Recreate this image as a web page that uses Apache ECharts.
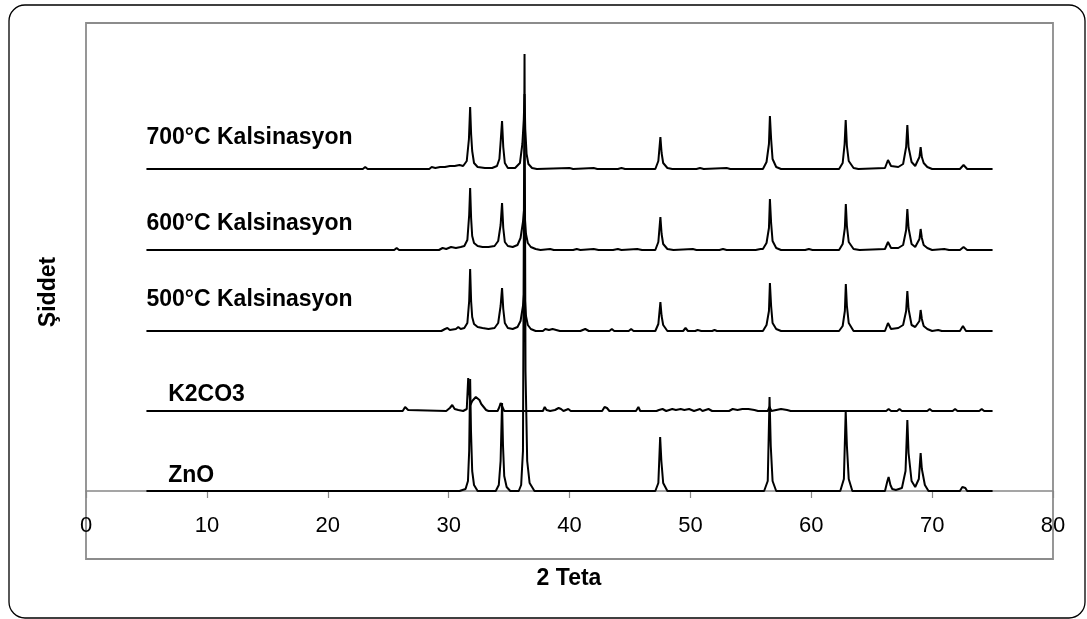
<!DOCTYPE html>
<html>
<head>
<meta charset="utf-8">
<script src="https://cdn.jsdelivr.net/npm/echarts@6/dist/echarts.min.js"></script>
<style>
  html, body { margin: 0; padding: 0; background: #fff; }
  #chart { width: 1087px; height: 619px; }
</style>
</head>
<body>
<div id="chart"></div>
<script>
// XRD patterns, [2 theta, intensity above own baseline]
const seriesNames = ['ZnO', 'K2CO3', '500°C Kalsinasyon', '600°C Kalsinasyon', '700°C Kalsinasyon'];
const offsets = [0, 80, 160, 241, 322];
const xTicks = [0, 10, 20, 30, 40, 50, 60, 70, 80];

const zno = [
  [5,0],[30.9,0],[31.4,2],[31.6,10],[31.7,40],[31.78,112],[31.85,60],[31.95,20],[32.1,6],[32.4,0],
  [33.9,0],[34.15,6],[34.3,30],[34.42,88],[34.5,45],[34.6,15],[34.8,4],[35.1,0],
  [35.8,0],[36.0,6],[36.15,40],[36.28,437],[36.36,120],[36.5,30],[36.7,8],[37.1,0],
  [47.1,0],[47.35,8],[47.5,54],[47.6,30],[47.75,8],[48.1,0],
  [56.1,0],[56.4,10],[56.55,94],[56.65,45],[56.8,10],[57.1,0],
  [62.4,0],[62.7,12],[62.85,80],[62.95,45],[63.1,12],[63.4,0],
  [66.1,0],[66.3,10],[66.4,14],[66.55,6],[66.7,2],[67.0,1],
  [67.5,3],[67.8,20],[67.95,71],[68.05,38],[68.15,36],[68.3,10],[68.6,4],
  [68.9,12],[69.05,38],[69.15,22],[69.25,20],[69.4,6],[69.7,0],
  [72.3,0],[72.5,4],[72.6,5],[72.75,3],[72.9,0],[75,0]
];

const k2co3 = [
  [5,0],[26.2,0],[26.4,4],[26.5,5],[26.65,1],[26.8,0],[29.8,0],[30.1,3],[30.3,6],[30.5,2],
  [30.8,1],[30.95,2],[31.2,0],[31.5,2],[31.62,33],[31.7,20],[31.8,6],[31.95,10],[32.1,9],
  [32.25,14],[32.4,12],[32.55,11],[32.7,7],[32.9,4],[33.1,1],[33.3,0],[34.05,0],[34.2,4],
  [34.3,8],[34.45,4],[34.6,0],[37.8,0],[37.95,4],[38.1,1],[38.4,0],[38.8,1],[39.1,3],
  [39.3,2],[39.5,0],[39.9,2],[40.1,0],[41.2,0],[41.35,2],[41.5,0],[42.7,0],[42.9,4],
  [43.1,3],[43.3,0],[45.5,0],[45.7,4],[45.85,0],[47.2,0],[47.4,1],[47.7,2],[48.0,0],
  [48.5,2],[48.8,1],[49.2,2],[49.5,1],[49.9,2],[50.3,0],[50.8,2],[51.0,0],[51.5,2],
  [51.8,0],[53.2,0],[53.5,2],[53.9,1],[54.3,2],[54.8,2],[55.3,1],[55.6,0],[56.4,0],
  [56.55,4],[56.7,0],[57.1,1],[57.5,2],[58.0,1],[58.3,0],[66.2,0],[66.4,2],[66.6,0],
  [67.1,0],[67.3,2],[67.5,0],[69.6,0],[69.8,2],[70.0,0],[71.7,0],[71.9,2],[72.1,0],
  [73.9,0],[74.1,2],[74.3,0],[75,0]
];

const c500 = [
  [5,0],[29.4,0],[29.7,2],[29.9,3],[30.1,1],[30.6,2],[30.8,4],[31.0,2],[31.3,3],[31.55,8],
  [31.7,30],[31.78,62],[31.86,30],[31.95,14],[32.1,7],[32.4,4],[32.8,3],[33.3,2],[33.8,3],
  [34.1,8],[34.3,25],[34.42,43],[34.52,22],[34.65,8],[34.9,3],[35.3,2],[35.7,4],[35.95,10],
  [36.15,25],[36.26,40],[36.32,30],[36.4,15],[36.55,6],[36.8,2],[37.2,0],[37.8,0],[38.0,2],
  [38.3,1],[38.6,2],[38.9,1],[39.2,0],[40.9,0],[41.3,2],[41.6,0],[43.3,0],[43.5,2],[43.7,0],
  [44.9,0],[45.1,2],[45.3,0],[47.1,0],[47.35,7],[47.52,29],[47.62,15],[47.75,6],[48.1,0],
  [49.4,0],[49.6,3],[49.8,0],[50.4,0],[50.6,1],[50.9,0],[51.8,0],[52.0,1],[52.2,0],
  [56.0,0],[56.3,6],[56.5,20],[56.58,48],[56.68,25],[56.8,8],[57.1,2],[57.5,0],
  [62.3,0],[62.6,5],[62.78,20],[62.86,47],[62.95,25],[63.1,8],[63.5,0],
  [66.1,0],[66.35,8],[66.6,2],[67.2,3],[67.6,6],[67.85,20],[67.95,40],[68.05,22],[68.15,20],
  [68.3,6],[68.6,4],[68.95,10],[69.05,21],[69.15,12],[69.3,5],[69.6,2],[70.0,0],[70.5,1],
  [70.8,0],[72.3,0],[72.55,5],[72.8,0],[75,0]
];

const c600 = [
  [5,0],[25.5,0],[25.7,2],[25.9,0],[29.2,0],[29.5,2],[29.8,1],[30.2,3],[30.6,2],[31.0,3],
  [31.3,4],[31.55,10],[31.7,35],[31.78,62],[31.86,32],[31.95,14],[32.1,7],[32.4,4],[32.8,3],
  [33.3,3],[33.8,4],[34.1,9],[34.3,25],[34.42,47],[34.52,22],[34.65,8],[34.9,4],[35.3,3],
  [35.7,5],[35.95,12],[36.15,28],[36.26,43],[36.32,30],[36.4,16],[36.55,7],[36.8,3],[37.2,1],
  [37.6,0],[38.4,1],[38.7,0],[40.3,0],[40.6,1],[40.9,0],[42.0,1],[42.4,0],[43.6,0],[44.0,1],
  [44.3,0],[45.6,1],[46.0,0],[47.1,0],[47.35,8],[47.52,33],[47.62,16],[47.75,6],[48.1,1],
  [48.6,0],[50.2,1],[50.5,0],[52.4,0],[52.7,1],[53.0,0],[55.4,0],[55.8,1],
  [56.0,1],[56.3,7],[56.5,22],[56.58,51],[56.68,27],[56.8,9],[57.1,2],[57.5,0],
  [59.5,0],[59.8,1],[60.1,0],[62.3,0],[62.6,6],[62.78,22],[62.86,46],[62.95,24],[63.1,8],
  [63.5,1],[64.0,0],[66.1,1],[66.35,8],[66.6,2],[67.2,2],[67.6,5],[67.85,20],[67.95,41],
  [68.05,22],[68.15,20],[68.3,6],[68.6,3],[68.95,11],[69.05,21],[69.15,12],[69.3,5],
  [69.6,2],[70.0,0],[71.0,1],[71.4,0],[72.3,0],[72.6,3],[72.9,0],[75,0]
];

const c700 = [
  [5,0],[12.5,0],[12.6,1],[12.7,0],[21.3,0],[21.4,2],[21.5,0],[22.9,0],[23.1,2],[23.3,0],
  [25.7,0],[25.85,2],[26.0,0],[26.9,0],[27.05,2],[27.2,0],[28.4,0],[28.6,2],[28.9,1],[29.3,2],
  [29.7,2],[30.1,3],[30.5,3],[30.9,4],[31.2,3],[31.5,8],[31.68,30],[31.78,62],[31.86,35],
  [31.95,18],[32.1,6],[32.4,2],[33.0,1],[33.6,1],[34.0,3],[34.2,10],[34.32,30],[34.42,48],
  [34.52,22],[34.65,6],[34.9,1],[35.5,1],[35.9,6],[36.1,25],[36.22,50],[36.28,75],[36.34,40],
  [36.45,15],[36.6,5],[36.9,1],[37.3,0],[40.0,1],[40.3,0],[42.0,1],[42.3,0],[44.0,0],[44.3,1],
  [44.6,0],[47.1,0],[47.35,8],[47.52,32],[47.62,16],[47.75,6],[48.1,1],[48.5,0],[50.5,0],
  [50.8,1],[51.1,0],[53.0,1],[53.3,0],[56.0,0],[56.3,7],[56.5,25],[56.58,53],[56.68,30],
  [56.8,10],[57.1,2],[57.5,0],[62.3,0],[62.6,6],[62.76,25],[62.85,49],[62.95,23],[63.1,8],
  [63.5,1],[63.9,0],[66.1,1],[66.35,9],[66.6,3],[67.2,2],[67.6,5],[67.85,22],[67.95,44],
  [68.05,22],[68.15,20],[68.3,7],[68.6,3],[68.95,12],[69.05,22],[69.15,12],[69.3,6],[69.6,2],
  [70.0,0],[72.3,0],[72.6,4],[72.9,0],[75,0]
];

const patterns = [zno, k2co3, c500, c600, c700];
// label anchor: [2 theta, height above own baseline]
const labelAnchors = [[6.8, 15], [6.8, 16], [5, 31], [5, 26], [5, 31]];

const font = 'Arial, "Liberation Sans", sans-serif';
const chart = echarts.init(document.getElementById('chart'));

const series = patterns.map(function (pts, i) {
  return {
    name: seriesNames[i],
    type: 'line',
    data: pts.map(function (p) { return [p[0], p[1] + offsets[i]]; }),
    showSymbol: false,
    symbol: 'none',
    lineStyle: { color: '#000', width: 2 },
    z: 3 + i,
    markPoint: {
      symbol: 'circle',
      symbolSize: 0,
      data: [{ coord: [labelAnchors[i][0], labelAnchors[i][1] + offsets[i]] }],
      label: {
        show: true,
        position: 'inside',
        align: 'left',
        verticalAlign: 'middle',
        formatter: seriesNames[i],
        color: '#000',
        fontFamily: font,
        fontWeight: 'bold',
        fontSize: 23
      }
    }
  };
});

chart.setOption({
  animation: false,
  backgroundColor: '#fff',
  grid: { left: 86, right: 34, top: 23, bottom: 128 },
  xAxis: {
    type: 'value',
    min: xTicks[0],
    max: xTicks[xTicks.length - 1],
    interval: 10,
    axisLine: { lineStyle: { color: '#888', width: 1.5 } },
    axisTick: { inside: false, length: 7, lineStyle: { color: '#888', width: 1.2 } },
    axisLabel: { color: '#000', fontFamily: font, fontSize: 22, margin: 24 },
    splitLine: { show: false }
  },
  yAxis: {
    type: 'value',
    min: 0,
    max: 468,
    show: false
  },
  graphic: [
    {
      type: 'rect',
      shape: { x: 9, y: 5, width: 1076, height: 613, r: 16 },
      style: { fill: 'none', stroke: '#000', lineWidth: 1.3 },
      z: 0
    },
    {
      type: 'rect',
      shape: { x: 86, y: 23, width: 967, height: 536 },
      style: { fill: 'none', stroke: '#8c8c8c', lineWidth: 1.8 },
      z: 0
    },
    {
      type: 'text',
      x: 569, y: 579,
      style: {
        text: '2 Teta', fill: '#000', font: 'bold 23px ' + font,
        textAlign: 'center', textVerticalAlign: 'middle'
      }
    },
    {
      type: 'text',
      x: 49, y: 292,
      rotation: Math.PI / 2,
      style: {
        text: 'Şiddet', fill: '#000', font: 'bold 23px ' + font,
        textAlign: 'center', textVerticalAlign: 'middle'
      }
    }
  ],
  series: series
});
</script>
</body>
</html>
